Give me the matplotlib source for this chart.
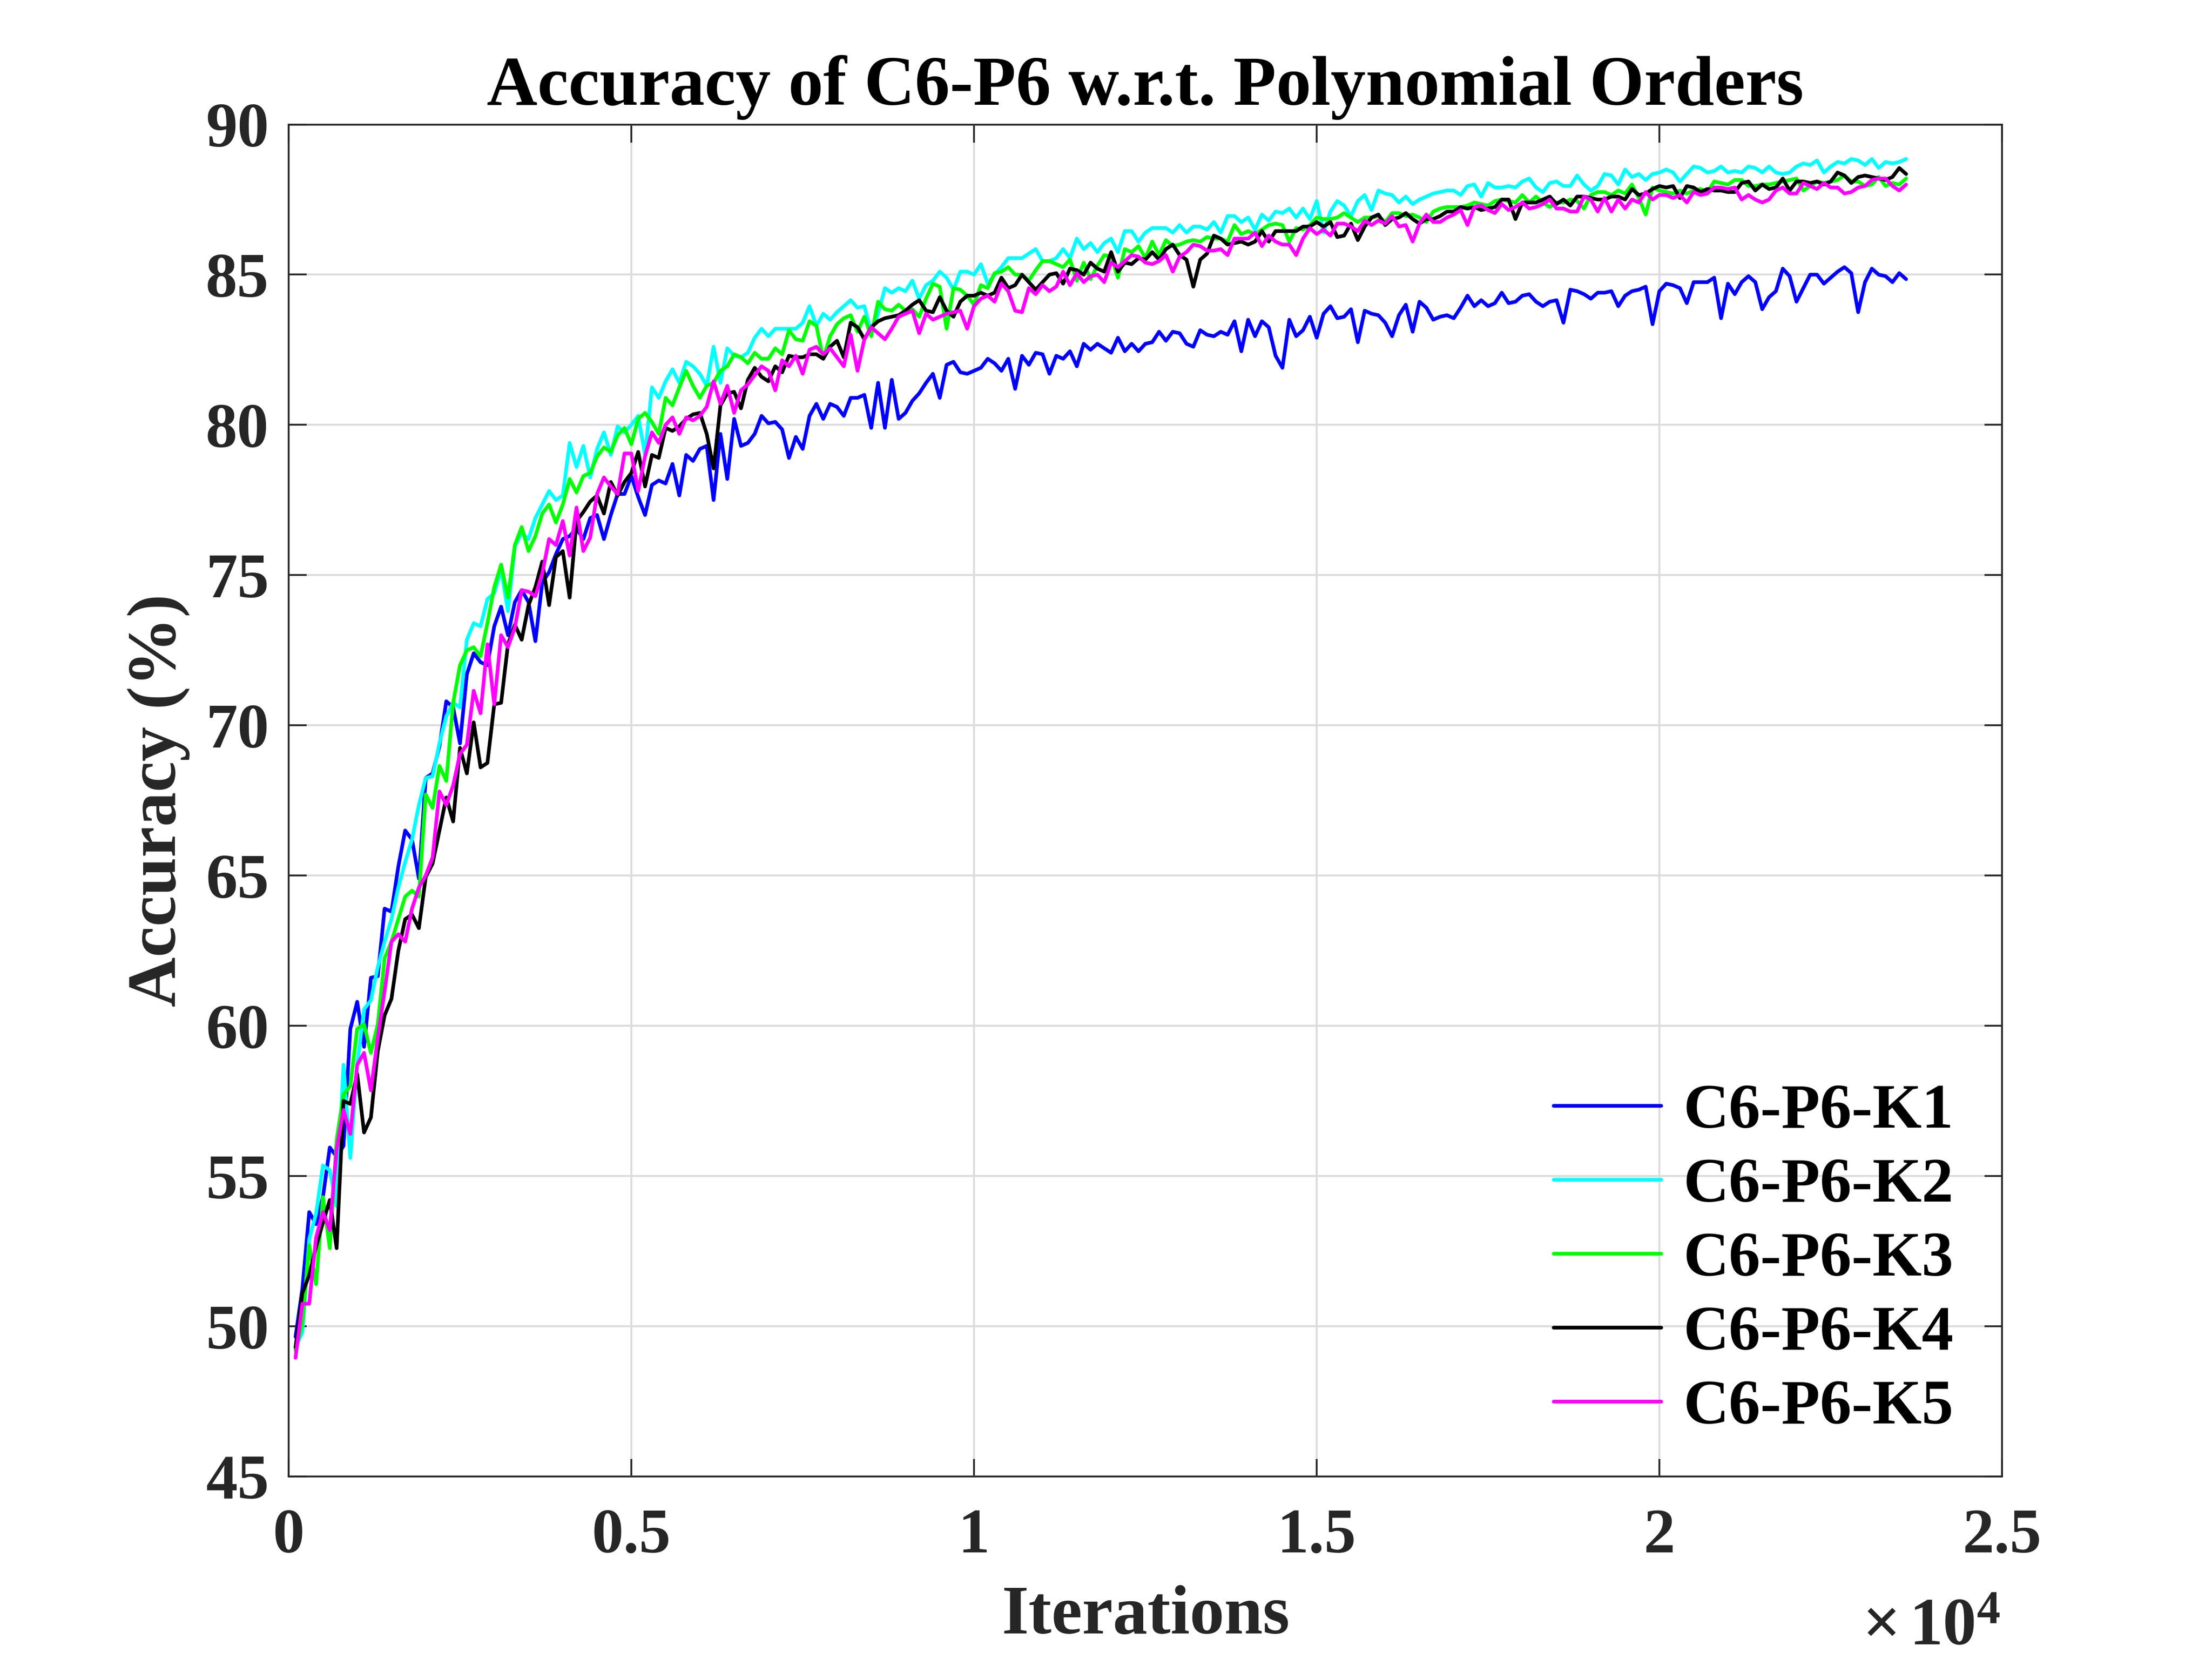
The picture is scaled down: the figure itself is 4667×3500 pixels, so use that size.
import numpy as np
import matplotlib
matplotlib.use('Agg')
import matplotlib.pyplot as plt

# ---------------- data (accuracy %, one value every 100 iterations, 100..23600) ----------------
series_labels = ['C6-P6-K1', 'C6-P6-K2', 'C6-P6-K3', 'C6-P6-K4', 'C6-P6-K5']
series_colors = ['#0000ff', '#00ffff', '#00ff00', '#000000', '#ff00ff']
iter_step = 100

acc_k1 = [
    49.65, 51.25, 53.8, 53.4, 54.3, 55.95, 55.65, 56.0, 59.9, 60.8,
    59.3, 61.6, 61.65, 63.9, 63.8, 65.3, 66.5, 66.2, 64.9, 68.25,
    68.4,
    69.3, 70.8, 70.6, 69.4, 71.7, 72.4, 72.1, 72.0, 73.3, 73.95,
    73.0, 74.1, 74.5, 74.1, 72.8, 74.75, 75.1, 75.7, 76.2, 76.3,
    76.55, 76.2, 76.9, 77.0, 76.2, 77.0, 77.7, 77.7, 78.3, 77.6,
    77.0, 78.0, 78.15, 78.05, 78.7, 77.65, 79.0,
    78.8, 79.2, 79.3, 77.5, 79.7, 78.2, 80.2, 79.3, 79.4, 79.7,
    80.3, 80.05, 80.1, 79.85, 78.9, 79.6, 79.2, 80.3, 80.7, 80.2,
    80.7, 80.6, 80.3, 80.9, 80.9, 81.0, 79.9, 81.4, 79.9, 81.5,
    80.2, 80.4, 80.8, 81.05, 81.4, 81.7, 80.9, 82.0, 82.1, 81.75,
    81.7, 81.8, 81.9, 82.2, 82.05, 81.8, 82.2, 81.2, 82.3, 82.0,
    82.4, 82.35, 81.7, 82.3, 82.2, 82.45, 81.95, 82.7,
    82.5, 82.7, 82.55, 82.4, 82.9, 82.45, 82.7, 82.45, 82.7, 82.75,
    83.1, 82.8, 83.1, 83.05, 82.7, 82.6, 83.15, 83.0, 82.95, 83.1,
    83.0, 83.45, 82.45, 83.5, 82.95, 83.45, 83.25, 82.3, 81.9, 83.5,
    82.95, 83.15, 83.6, 82.9, 83.7, 83.95, 83.55, 83.6, 83.85, 82.75,
    83.8, 83.7, 83.65, 83.4, 82.95, 83.65, 84.0, 83.1, 84.1, 83.9,
    83.5, 83.6, 83.65, 83.55, 83.9, 84.3, 83.95, 84.15, 83.95,
    84.05, 84.4, 84.05, 84.1, 84.3, 84.35, 84.1, 83.95, 84.1, 84.15,
    83.4, 84.5, 84.45, 84.35, 84.2, 84.4, 84.4, 84.45, 83.95, 84.3,
    84.45, 84.5, 84.6, 83.35, 84.45, 84.7, 84.65, 84.55, 84.05, 84.75,
    84.75, 84.75, 84.9, 83.55, 84.7, 84.35, 84.75, 84.95, 84.75, 83.85,
    84.25, 84.45, 85.2, 84.95, 84.1, 84.55, 85.0, 85.0, 84.7, 84.9,
    85.1, 85.25, 85.05, 83.75, 84.75, 85.2, 85.0, 84.95, 84.75, 85.05,
    84.85,
]

acc_k2 = [
    49.3, 49.8, 52.9, 53.75, 55.35, 55.2, 54.0, 58.7, 55.6, 58.7,
    60.55, 60.85, 61.95, 62.8, 63.55, 64.6, 65.45, 66.2, 67.35, 68.25,
    68.3,
    69.4, 70.3, 70.75, 70.6, 72.85, 73.4, 73.3, 74.2, 74.4, 75.2,
    73.8, 75.95, 76.4, 76.2, 76.9, 77.35, 77.8, 77.5, 77.65, 79.4,
    78.6, 79.3, 78.25, 79.2, 79.75, 79.0, 79.95, 79.75, 80.0, 80.3,
    79.0, 81.25, 80.9, 81.45, 81.85, 81.4, 82.1,
    81.95, 81.7, 81.3, 82.6, 81.4, 82.55, 82.3, 82.25, 82.4, 82.9,
    83.2, 82.95, 83.2, 83.2, 83.2, 83.2, 83.4, 83.95, 83.3, 83.7,
    83.5, 83.75, 83.95, 84.15, 83.9, 83.95, 83.1, 83.7, 84.55, 84.4,
    84.55, 84.45, 84.8, 84.2, 84.65, 84.8, 85.1, 84.9, 84.5, 85.1,
    85.1, 85.0, 85.35, 84.7, 85.0, 85.25, 85.55, 85.55, 85.55, 85.7,
    85.85, 85.45, 85.45, 85.55, 85.85, 85.55, 86.2, 85.85,
    86.05, 85.75, 86.05, 86.2, 85.75, 86.45, 86.45, 86.1, 86.4, 86.55,
    86.55, 86.55, 86.4, 86.65, 86.4, 86.6, 86.6, 86.5, 86.75, 86.4,
    86.95, 86.95, 86.75, 86.9, 86.5, 87.0, 86.8, 87.1, 87.05, 87.2,
    86.9, 87.2, 86.85, 87.45, 86.4, 87.1, 87.45, 87.3, 86.95, 87.45,
    87.65, 87.15, 87.8, 87.7, 87.65, 87.4, 87.6, 87.35, 87.5, 87.6,
    87.7, 87.75, 87.8, 87.8, 87.65, 87.95, 88.0, 87.6, 88.05,
    87.9, 87.9, 87.95, 87.9, 88.1, 88.2, 87.9, 87.75, 88.05, 88.1,
    87.95, 87.95, 88.3, 88.0, 87.8, 87.95, 88.35, 88.3, 88.0, 88.5,
    88.25, 88.35, 88.15, 88.35, 88.4, 88.5, 88.4, 88.1, 88.35, 88.6,
    88.55, 88.4, 88.45, 88.6, 88.4, 88.45, 88.4, 88.6, 88.55, 88.4,
    88.6, 88.4, 88.35, 88.4, 88.6, 88.7, 88.65, 88.8, 88.4, 88.6,
    88.75, 88.7, 88.85, 88.8, 88.65, 88.85, 88.55, 88.75, 88.7, 88.75,
    88.85,
]

acc_k3 = [
    49.2, 50.1, 52.7, 51.4, 54.3, 52.6, 56.2, 57.7, 58.0, 59.9,
    60.05, 59.1, 60.05, 62.25, 62.8, 63.55, 64.3, 64.5, 64.3, 67.7,
    67.25,
    68.65, 68.15, 70.75, 72.0, 72.5, 72.6, 72.3, 73.4, 74.6, 75.35,
    74.25, 76.0, 76.6, 75.8, 76.3, 77.05, 77.35, 76.75, 77.35, 78.2,
    77.75, 78.3, 78.4, 78.95, 79.25, 79.1, 79.65, 79.9, 79.35, 80.2,
    80.4, 80.1, 79.7, 80.9, 80.65, 81.25, 81.8,
    81.3, 80.9, 81.3, 81.4, 81.8, 81.95, 82.35, 82.25, 82.05, 82.4,
    82.2, 82.2, 82.55, 82.35, 83.15, 82.85, 82.8, 83.45, 83.3, 82.2,
    82.95, 83.35, 83.55, 83.65, 83.1, 83.6, 82.95, 84.1, 83.85, 83.8,
    84.0, 83.8, 83.85, 83.6, 84.2, 84.7, 84.6, 83.2, 84.55, 84.5,
    84.3, 84.0, 84.65, 84.55, 85.05, 85.1, 85.25, 85.0, 85.0, 84.8,
    85.15, 85.45, 85.45, 85.35, 85.25, 85.5, 84.8, 85.4,
    84.85, 85.3, 85.65, 85.6, 84.9, 85.85, 85.75, 85.95, 85.55, 86.1,
    85.65, 86.15, 85.95, 86.0, 86.1, 86.15, 86.1, 86.25, 86.2, 86.2,
    86.1, 86.65, 86.35, 86.45, 86.35, 86.5, 86.65, 86.7, 86.65, 86.1,
    86.55, 86.5, 86.65, 86.9, 86.85, 86.85, 86.9, 87.05, 86.9, 86.75,
    86.9, 86.9, 86.95, 86.75, 87.05, 87.05, 86.95, 87.0, 86.9, 86.75,
    87.1, 87.2, 87.25, 87.25, 87.25, 87.3, 87.4, 87.35, 87.3,
    87.45, 87.5, 87.45, 87.4, 87.65, 87.4, 87.6, 87.4, 87.25, 87.4,
    87.4, 87.5, 87.45, 87.2, 87.65, 87.75, 87.75, 87.65, 87.8, 87.7,
    88.0, 87.55, 87.0, 87.9, 87.8, 87.75, 87.7, 87.8, 87.7, 87.8,
    87.85, 87.75, 88.1, 88.05, 88.0, 88.15, 88.15, 87.95, 87.95, 88.0,
    88.0, 88.05, 88.1, 88.15, 88.2, 87.8, 87.95, 88.1, 88.05, 88.1,
    88.15, 88.3, 88.1, 88.1, 87.95, 88.0, 88.25, 87.95, 88.05, 88.0,
    88.2,
]

acc_k4 = [
    49.3, 51.1, 51.7, 52.65, 53.45, 54.2, 52.6, 57.5, 57.4, 58.4,
    56.45, 56.95, 59.15, 60.35, 60.9, 62.5, 63.55, 63.7, 63.25, 64.95,
    65.4,
    66.5, 67.6, 66.8, 69.25, 68.4, 70.1, 68.6, 68.75, 70.7, 70.75,
    72.7, 73.35, 72.85, 74.0, 74.6, 75.45, 74.0, 75.6, 75.8, 74.25,
    76.8, 77.1, 77.45, 77.65, 77.05, 78.1, 77.65, 78.1, 78.4, 79.1,
    77.95, 79.0, 78.9, 79.9, 79.8, 79.95, 80.2,
    80.35, 80.4, 79.7, 78.55, 80.65, 81.05, 81.1, 80.55, 81.5, 81.9,
    81.6, 81.45, 81.95, 81.75, 82.3, 82.25, 82.25, 82.35, 82.35, 82.2,
    82.6, 82.8, 82.25, 83.4, 83.25, 82.85, 83.25, 83.45, 83.55, 83.6,
    83.65, 83.8, 84.0, 84.15, 83.8, 83.75, 84.25, 83.8, 83.6, 84.1,
    84.3, 84.3, 84.4, 84.3, 84.4, 84.9, 84.55, 84.65, 85.0, 84.75,
    84.5, 84.75, 85.0, 85.05, 84.7, 85.2, 85.15, 85.0,
    85.4, 85.2, 85.1, 85.75, 85.1, 85.4, 85.35, 85.55, 85.5, 85.75,
    85.5, 85.85, 86.0, 85.65, 85.5, 84.6, 85.5, 85.7, 86.3, 86.2,
    86.0, 86.05, 86.1, 86.0, 86.1, 86.45, 86.1, 86.45, 86.45, 86.45,
    86.45, 86.6, 86.6, 86.75, 86.6, 86.75, 86.25, 86.3, 86.7, 86.15,
    86.6, 86.9, 87.0, 86.65, 86.85, 86.9, 87.05, 86.85, 86.7, 86.85,
    86.85, 86.95, 87.1, 87.1, 87.25, 87.2, 87.25, 87.15, 87.2,
    87.25, 87.5, 87.5, 86.85, 87.4, 87.4, 87.4, 87.5, 87.6, 87.35,
    87.5, 87.3, 87.6, 87.6, 87.55, 87.5, 87.5, 87.6, 87.6, 87.5,
    87.85, 87.65, 87.7, 87.85, 87.95, 87.9, 87.95, 87.55, 87.95, 87.9,
    87.75, 87.85, 87.8, 87.8, 87.75, 87.75, 88.05, 88.1, 87.8, 88.0,
    87.85, 87.9, 88.2, 87.8, 88.1, 88.1, 88.05, 88.1, 88.0, 88.1,
    88.4, 88.3, 88.05, 88.25, 88.3, 88.25, 88.2, 88.15, 88.25, 88.55,
    88.35,
]

acc_k5 = [
    48.95, 50.75, 50.75, 52.95, 53.8, 53.2, 55.9, 57.2, 56.4, 58.7,
    59.1, 57.85, 59.6, 61.15, 62.8, 63.05, 62.8, 63.9, 64.6, 65.0,
    65.6,
    67.8, 67.35, 68.0, 69.05, 69.35, 71.15, 70.4, 72.7, 70.7, 73.0,
    72.6, 73.25, 74.5, 74.45, 74.3, 75.05, 76.2, 76.0, 76.8, 75.65,
    77.25, 75.8, 76.25, 77.7, 78.25, 77.95, 77.7, 79.05, 79.05, 77.8,
    78.95, 79.75, 79.4, 80.0, 80.25, 79.7, 80.25,
    80.15, 80.3, 80.6, 81.45, 80.7, 81.3, 80.4, 81.15, 81.35, 81.65,
    81.95, 81.8, 81.15, 82.15, 81.95, 82.3, 81.7, 82.5, 82.6, 82.35,
    82.55, 82.25, 81.95, 83.0, 81.8, 82.85, 83.25, 83.05, 82.85, 83.2,
    83.6, 83.7, 83.8, 83.05, 83.7, 83.5, 83.6, 83.7, 83.75, 83.8,
    83.2, 83.95, 84.2, 84.3, 84.1, 84.7, 84.45, 83.8, 83.75, 84.55,
    84.35, 84.65, 84.45, 84.6, 85.1, 84.65, 85.05, 84.75,
    84.95, 85.0, 84.75, 85.4, 85.25, 85.45, 85.65, 85.6, 85.4, 85.35,
    85.45, 85.65, 85.1, 85.6, 85.75, 86.0, 85.95, 85.8, 85.8, 85.85,
    85.65, 86.2, 86.2, 86.2, 86.4, 85.95, 86.3, 86.1, 86.0, 86.0,
    85.65, 86.2, 86.55, 86.35, 86.5, 86.3, 86.7, 86.7, 86.6, 86.45,
    86.8, 86.65, 86.8, 86.7, 86.95, 86.6, 86.65, 86.1, 86.7, 87.0,
    86.75, 86.75, 86.9, 87.0, 87.15, 86.65, 87.25, 87.3, 87.15,
    87.05, 87.35, 87.15, 87.25, 87.4, 87.2, 87.25, 87.35, 87.5, 87.2,
    87.2, 87.1, 87.1, 87.6, 87.5, 87.1, 87.55, 87.1, 87.5, 87.2,
    87.5, 87.4, 87.75, 87.5, 87.65, 87.65, 87.55, 87.65, 87.4, 87.75,
    87.65, 87.7, 87.9, 87.9, 87.85, 87.9, 87.5, 87.65, 87.5, 87.4,
    87.5, 87.8, 87.9, 87.7, 87.7, 88.05, 87.95, 87.85, 88.05, 87.9,
    87.9, 87.7, 87.75, 87.9, 87.95, 88.15, 88.2, 88.2, 87.95, 87.8,
    88.0,
]

x_ticks = [0, 5000, 10000, 15000, 20000, 25000]
x_tick_labels = ['0', '0.5', '1', '1.5', '2', '2.5']
y_ticks = [45, 50, 55, 60, 65, 70, 75, 80, 85, 90]

# ---------------- style ----------------
plt.rcParams['font.family'] = ['Liberation Serif', 'DejaVu Serif']
plt.rcParams['font.weight'] = 'bold'
plt.rcParams['mathtext.fontset'] = 'custom'
plt.rcParams['mathtext.rm'] = 'Liberation Serif'
plt.rcParams['mathtext.bf'] = 'Liberation Serif:bold'
plt.rcParams['mathtext.it'] = 'Liberation Serif:italic'

axis_col = '#262626'

fig = plt.figure(figsize=(4667 / 300, 3500 / 300), dpi=300)
ax = fig.add_axes([0.1305, 0.11, 0.7746, 0.815])

all_series = [acc_k1, acc_k2, acc_k3, acc_k4, acc_k5]
for vals, lab, col in zip(all_series, series_labels, series_colors):
    xs = np.arange(1, len(vals) + 1) * iter_step
    ax.plot(xs, vals, color=col, linewidth=1.85, label=lab,
            solid_joinstyle='round', solid_capstyle='round')

ax.set_xlim(0, 25000)
ax.set_ylim(45, 90)
ax.set_xticks(x_ticks)
ax.set_xticklabels(x_tick_labels)
ax.set_yticks(y_ticks)
ax.grid(True, color='#dcdcdc', linewidth=1.0)
ax.set_axisbelow(True)

for sp in ax.spines.values():
    sp.set_color(axis_col)
    sp.set_linewidth(0.9)

ax.tick_params(axis='both', direction='in', length=9, width=0.9, color=axis_col,
               labelcolor=axis_col, labelsize=32, top=True, right=True)
ax.tick_params(axis='x', pad=16)
ax.tick_params(axis='y', pad=10)

ax.set_title('Accuracy of C6-P6 w.r.t. Polynomial Orders', fontsize=35.5,
             fontweight='bold', color='black', pad=10)
ax.set_xlabel('Iterations', fontsize=35, fontweight='bold', color=axis_col, labelpad=10)
ax.set_ylabel('Accuracy (%)', fontsize=35, fontweight='bold', color=axis_col, labelpad=8)

ax.text(0.999, -0.1245, r'$\times\,\mathbf{10^{4}}$', transform=ax.transAxes,
        ha='right', va='baseline', fontsize=34, color=axis_col)

leg = ax.legend(loc='lower right', bbox_to_anchor=(0.979, 0.020), frameon=False,
                fontsize=32, handlelength=1.7, handletextpad=0.35,
                labelspacing=0.26, borderpad=0.2, borderaxespad=0.0)
for t in leg.get_texts():
    t.set_color('black')

fig.savefig('out.png', dpi=300)
